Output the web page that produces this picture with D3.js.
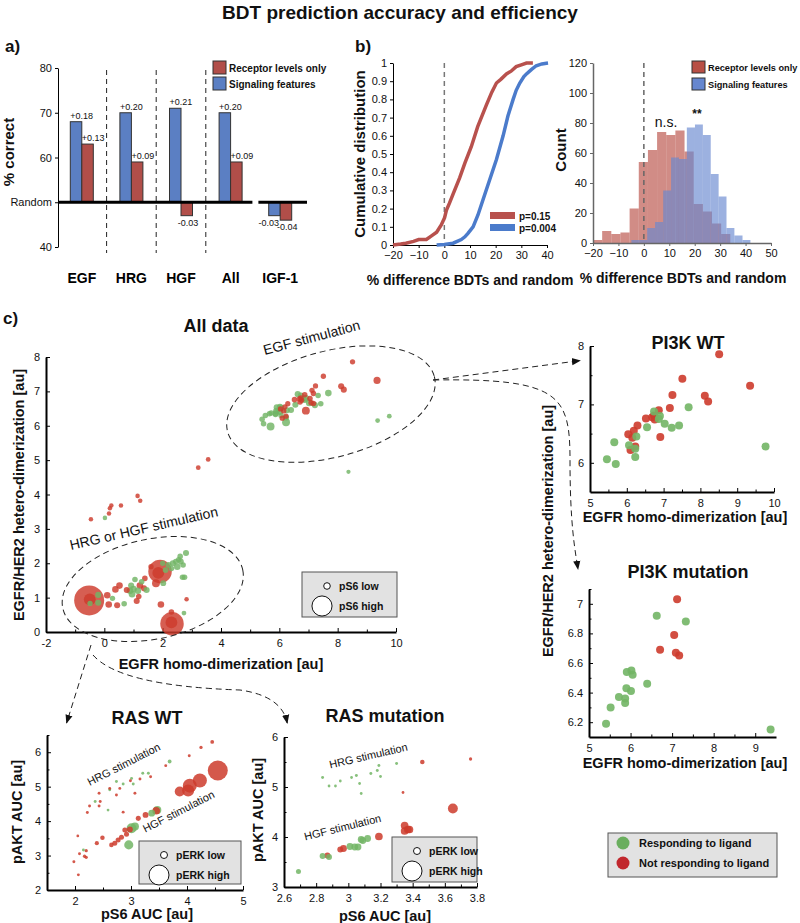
<!DOCTYPE html>
<html>
<head>
<meta charset="utf-8">
<script src="https://cdn.jsdelivr.net/npm/d3@7"></script>
<style>
body { margin: 0; background: #fff; }
svg { font-family: Arial, "Liberation Sans", Helvetica, sans-serif; }
</style>
</head>
<body>
<div id="chart"></div>
<script>
// ---------- data ----------
var groups = ['EGF', 'HRG', 'HGF', 'All', 'IGF-1'];
var signalingPct = [68, 70, 71, 70, 47];
var receptorPct = [63, 59, 47, 59, 46];
var signalingGain = ['+0.18', '+0.20', '+0.21', '+0.20', '-0.03'];
var receptorGain = ['+0.13', '+0.09', '-0.03', '+0.09', '-0.04'];

// cumulative distributions (% difference, fraction)
var cdfReceptor = [[-20,0],[-17,0.005],[-15,0.01],[-12,0.02],[-10,0.03],[-7,0.03],[-5,0.05],[-3,0.07],[-1.2,0.11],[0.1,0.15],[0.8,0.19],[2,0.23],[3.4,0.28],[6,0.37],[8,0.45],[10.5,0.54],[13,0.65],[16.4,0.77],[18.5,0.84],[20.3,0.89],[22,0.91],[24.2,0.94],[26,0.955],[28,0.98],[30,0.99],[32,1],[34.5,1]];
var cdfSignaling = [[-3,0],[0,0.003],[3.4,0.01],[5,0.02],[6.6,0.03],[8,0.045],[9.2,0.064],[11.2,0.1],[13.1,0.165],[15.1,0.25],[17.7,0.36],[20.3,0.47],[22.9,0.6],[24.8,0.71],[26.8,0.8],[28,0.85],[29.4,0.89],[31,0.925],[32,0.94],[34,0.965],[35.8,0.985],[38,0.995],[40.4,1]];

// histograms
var histReceptorEdges = [-20,-16.4,-12.8,-9.2,-5.6,-2,1.6,5.2,8.8,12.4,16,19.6,23.2,26.8,30.4,34];
var histReceptorCounts = [2,8,6,7,23,54,62,74,72,75,61,26,21,13,6];
var histSignalingEdges = [-4.9,-1.8,1.3,4.4,7.6,10.7,13.8,16.9,20.1,23.2,26.3,29.4,32.5,35.6,38.8,41.9];
var histSignalingCounts = [2,2,10,14,35,57,56,77,79,72,46,31,10,5,2];

// scatter points: [x, y, responding (1) / not (0), size variable]
var pi3kWT = [
  [8.51,7.86,0,0.05],[7.51,7.44,0,0.05],[7.24,7.16,0,0.05],[8.12,7.15,0,0.08],[8.21,7.05,0,0.08],
  [9.35,7.32,0,0.12],[7.17,6.94,0,0.06],[6.87,6.90,0,0.06],[6.52,6.76,0,0.06],[6.69,6.78,0,0.06],
  [6.74,6.81,0,0.06],[6.76,6.74,0,0.06],[6.29,6.64,0,0.05],[6.19,6.55,0,0.05],[6.04,6.49,0,0.05],
  [6.15,6.43,0,0.05],[6.23,6.28,0,0.05],[6.10,6.22,0,0.05],[6.91,6.44,0,0.15],
  [5.46,6.06,1,0.06],[5.70,5.98,1,0.15],[5.66,6.35,1,0.06],[6.06,6.30,1,0.06],[6.26,6.45,1,0.08],
  [6.23,6.24,1,0.08],[6.23,6.10,1,0.15],[6.55,6.61,1,0.08],[6.74,6.88,1,0.08],[6.90,6.80,1,0.12],
  [6.87,6.75,1,0.08],[7.03,6.67,1,0.12],[7.22,6.60,1,0.08],[7.42,6.64,1,0.06],[7.68,6.95,1,0.1],
  [9.77,6.28,1,0.03]
];
var pi3kMut = [
  [7.12,7.03,0,0.05],[7.05,6.79,0,0.06],[6.71,6.69,0,0.06],[7.09,6.67,0,0.06],[7.17,6.65,0,0.06],
  [6.63,6.92,1,0.08],[7.33,6.88,1,0.06],[5.91,6.54,1,0.08],[6.02,6.55,1,0.08],[6.05,6.52,1,0.1],
  [6.40,6.46,1,0.08],[5.90,6.43,1,0.1],[6.01,6.41,1,0.1],[5.72,6.37,1,0.06],[5.87,6.36,1,0.08],
  [5.87,6.33,1,0.06],[5.52,6.30,1,0.06],[5.41,6.19,1,0.06],[9.37,6.15,1,0.03]
];
var hrgHgfCluster = [
  [-0.52,0.92,0,1.0],[1.91,1.76,0,0.75],[2.32,0.24,0,0.75],
  [-0.50,0.95,0,0.3],[1.85,1.72,0,0.3],[2.30,0.28,0,0.3],
  [-0.21,1.08,1,0.08],[-0.21,0.85,1,0.08],[-0.49,0.83,1,0.05],[0.10,1.07,0,0.1],[0.15,0.80,0,0.1],
  [0.44,0.78,0,0.08],[0.28,0.98,1,0.05],[0.38,1.24,0,0.1],[0.52,1.35,0,0.1],[0.68,0.82,1,0.06],
  [0.77,1.22,0,0.08],[0.88,1.20,1,0.1],[0.95,1.10,1,0.1],[1.00,1.25,1,0.1],[0.92,1.35,1,0.08],
  [1.05,1.53,1,0.06],[1.11,0.90,0,0.08],[1.18,1.03,0,0.06],[1.22,1.35,0,0.1],[1.39,1.56,0,0.06],
  [1.36,1.27,0,0.08],[1.45,1.22,1,0.08],[1.28,1.46,1,0.06],[1.15,1.20,1,0.1],[1.77,1.42,0,0.15],
  [2.02,1.42,1,0.07],[1.94,0.80,0,0.1],[2.20,1.95,1,0.08],[2.30,1.85,1,0.06],[2.35,2.00,1,0.08],
  [2.45,2.05,1,0.06],[2.50,1.90,1,0.1],[2.55,2.10,1,0.06],[2.62,2.05,1,0.08],[2.70,1.95,1,0.06],
  [2.80,2.30,1,0.08],[2.60,2.20,1,0.06],[2.68,1.59,1,0.06],[2.75,1.59,1,0.06],[2.82,0.95,0,0.02],
  [2.73,0.55,1,0.03],[2.30,0.58,0,0.06],[2.10,1.80,1,0.06],[1.60,1.90,0,0.05],[2.00,2.00,1,0.05]
];
var otherPoints = [
  [-0.46,3.28,0,0.02],[0.02,3.32,1,0.02],[0.19,3.60,0,0.02],[0.16,3.45,0,0.02],[0.24,3.68,0,0.02],
  [0.57,3.68,0,0.02],[1.14,3.96,0,0.02],[1.23,3.82,0,0.02],[3.22,4.78,0,0.03],[3.56,5.02,0,0.03],
  [8.37,4.66,1,0.01]
];
var rasWT = [
  [4.45,6.30,0,0.08],[4.25,6.14,0,0.05],[4.04,5.90,0,0.03],[3.69,5.73,1,0.08],[3.62,5.61,0,0.03],
  [3.35,5.29,0,0.03],[3.31,5.39,1,0.03],[3.21,5.39,1,0.03],[3.16,5.22,0,0.03],[3.01,5.24,1,0.03],
  [2.99,5.17,0,0.03],[3.04,5.08,1,0.03],[3.07,4.81,0,0.03],[2.86,5.08,1,0.03],[2.80,4.95,0,0.03],
  [2.74,5.15,1,0.03],[2.74,4.76,0,0.03],[2.62,4.91,1,0.03],[2.62,4.95,0,0.03],[2.43,4.81,0,0.03],
  [2.45,4.57,0,0.03],[2.43,4.44,0,0.03],[2.36,4.57,1,0.03],[2.26,4.44,0,0.03],[2.22,4.25,0,0.03],
  [2.59,4.32,1,0.02],[2.86,4.26,0,0.03],[2.05,3.57,0,0.02],[1.98,2.82,0,0.03],[2.06,2.44,0,0.03],
  [4.55,5.47,0,1.0],[4.23,5.18,0,0.66],[4.05,5.03,0,0.66],[4.02,4.89,0,0.55],[3.87,4.86,0,0.43],
  [3.47,4.32,1,0.32],[3.45,4.30,0,0.3],[3.37,4.23,1,0.25],[3.26,4.18,0,0.2],[3.13,4.08,0,0.15],
  [3.07,3.84,1,0.32],[3.01,3.79,1,0.43],[2.98,3.76,0,0.2],[2.89,3.74,0,0.15],[2.92,3.62,0,0.15],
  [2.96,3.31,1,0.38],[2.83,3.53,0,0.15],[2.77,3.45,0,0.15],[2.71,3.36,0,0.15],[2.65,3.31,0,0.12],
  [2.49,3.52,0,0.12],[2.39,3.36,0,0.1],[2.15,3.16,1,0.03],[2.20,3.14,0,0.05],[2.20,2.95,0,0.05],
  [2.17,2.98,0,0.05],[2.08,3.05,0,0.03]
];
var rasMut = [
  [2.84,5.19,1,0.03],[2.88,5.02,1,0.02],[2.92,5.02,1,0.02],[2.95,5.12,1,0.02],[3.02,5.19,1,0.02],
  [3.05,5.23,1,0.03],[3.07,5.07,1,0.02],[3.08,4.87,1,0.02],[3.14,5.27,1,0.03],[3.18,5.33,1,0.03],
  [3.19,5.43,1,0.03],[3.20,5.21,1,0.02],[3.30,5.47,1,0.03],
  [3.46,5.50,0,0.12],[3.76,5.56,0,0.05],[3.34,4.89,0,0.02],[3.65,4.57,0,0.43],[3.35,4.23,0,0.3],
  [3.35,4.12,0,0.3],[3.37,4.15,0,0.3],[3.38,4.15,0,0.3],[3.19,4.01,0,0.3],[2.97,3.77,0,0.25],
  [2.95,3.75,0,0.2],[2.87,3.63,0,0.2],
  [2.84,3.62,1,0.2],[2.88,3.60,1,0.2],[3.01,3.81,1,0.25],[3.04,3.80,1,0.25],[3.06,3.80,1,0.25],
  [3.08,3.95,1,0.25],[3.09,3.93,1,0.25],[3.12,3.97,1,0.25],[2.69,3.31,1,0.15]
];

// ---------- setup ----------
var GREEN = '#72b565', RED = '#cd3b2c';
var BAR_BLUE = '#5b7fc3', BAR_RED = '#b14e49';
var LINE_RED = '#b8514d', LINE_BLUE = '#4b7bcb';

var svg = d3.select('#chart').append('svg').attr('width', 800).attr('height', 923);

svg.append('defs').append('marker')
  .attr('id', 'arrow').attr('viewBox', '0 0 10 10')
  .attr('refX', 9).attr('refY', 5)
  .attr('markerWidth', 9).attr('markerHeight', 9)
  .attr('orient', 'auto')
  .append('path').attr('d', 'M0,1 L10,5 L0,9 z').attr('fill', '#111');

function styleAxis(sel, w, color) {
  sel.attr('font-size', 11).attr('font-family', null);
  sel.select('.domain').attr('stroke-width', w).attr('stroke', color || '#000');
  sel.selectAll('.tick line').attr('stroke', color || '#000');
  sel.selectAll('.tick text').attr('fill', '#111');
}

function label(x, y, txt, size, weight, anchor, rot) {
  var t = svg.append('text')
    .attr('transform', 'translate(' + x + ',' + y + ')' + (rot ? ' rotate(' + rot + ')' : ''))
    .attr('font-size', size).attr('font-weight', weight || 'normal')
    .attr('text-anchor', anchor || 'middle').attr('fill', '#111')
    .text(txt);
  return t;
}

label(400, 19, 'BDT prediction accuracy and efficiency', 19, 'bold');
label(5, 52, 'a)', 17, 'bold', 'start');
label(355, 52, 'b)', 17, 'bold', 'start');
label(3, 324, 'c)', 17, 'bold', 'start');

// ---------- panel a ----------
var xa = d3.scaleBand().domain(groups).range([57, 305]);
var ya = d3.scaleLinear().domain([40, 80]).range([247, 68]);
var bw = 11.5;
var rows = groups.map(function(g, i) {
  return { g: g, sig: signalingPct[i], rec: receptorPct[i], sigLab: signalingGain[i], recLab: receptorGain[i] };
});

svg.append('g').selectAll('line').data(groups.slice(1, 4)).join('line')
  .attr('x1', function(d) { return xa(d); }).attr('x2', function(d) { return xa(d); })
  .attr('y1', 70).attr('y2', 253)
  .attr('stroke', '#222').attr('stroke-dasharray', '5,4');

var ay = svg.append('g').attr('transform', 'translate(58,0)')
  .call(d3.axisLeft(ya).tickValues([40, 50, 60, 70, 80])
    .tickFormat(function(d) { return d === 50 ? 'Random' : d; })
    .tickSize(3).tickSizeOuter(0));
styleAxis(ay, 1);

var series = [
  { key: 'sig', lab: 'sigLab', off: -bw, negShift: 0, color: BAR_BLUE },
  { key: 'rec', lab: 'recLab', off: 0, negShift: 7, color: BAR_RED }
];
series.forEach(function(s) {
  var gs = svg.append('g');
  gs.selectAll('rect').data(rows).join('rect')
    .attr('x', function(d) { return xa(d.g) + xa.bandwidth() / 2 + s.off; })
    .attr('width', bw)
    .attr('y', function(d) { return ya(Math.max(d[s.key], 50)); })
    .attr('height', function(d) { return Math.abs(ya(d[s.key]) - ya(50)); })
    .attr('fill', s.color).attr('stroke', '#333').attr('stroke-width', 1);
  gs.selectAll('text').data(rows).join('text')
    .attr('x', function(d) {
      var bx = xa(d.g) + xa.bandwidth() / 2 + s.off;
      return d[s.key] > 50 ? bx : bx + s.negShift;
    })
    .attr('y', function(d) { return d[s.key] > 50 ? ya(d[s.key]) - 3 : ya(d[s.key]) + 10; })
    .attr('text-anchor', function(d) { return d[s.key] > 50 ? 'start' : 'middle'; })
    .attr('font-size', 9).attr('fill', '#111')
    .text(function(d) { return d[s.lab]; });
});

svg.append('line').attr('x1', 58).attr('x2', xa('All') + xa.bandwidth() - 3)
  .attr('y1', ya(50)).attr('y2', ya(50)).attr('stroke', '#000').attr('stroke-width', 3);
svg.append('line').attr('x1', xa('IGF-1') + 3).attr('x2', xa('IGF-1') + xa.step() + 2)
  .attr('y1', ya(50)).attr('y2', ya(50)).attr('stroke', '#000').attr('stroke-width', 3);

svg.append('g').selectAll('text').data(groups).join('text')
  .attr('x', function(d) { return xa(d) + xa.bandwidth() / 2; }).attr('y', 283)
  .attr('text-anchor', 'middle').attr('font-size', 14).attr('font-weight', 'bold')
  .text(function(d) { return d; });
label(14, 152, '% correct', 15, 'bold', 'middle', -90);

function barLegend(x, y, items, fs) {
  items.forEach(function(it, i) {
    svg.append('rect').attr('x', x).attr('y', y + i * 16).attr('width', 13).attr('height', 13)
      .attr('fill', it.color).attr('stroke', '#333');
    label(x + 16, y + i * 16 + 10.5, it.text, fs, 'bold', 'start');
  });
}
barLegend(213, 61, [{ color: BAR_RED, text: 'Receptor levels only' }, { color: BAR_BLUE, text: 'Signaling features' }], 10);

// ---------- panel b (CDF) ----------
var xc = d3.scaleLinear().domain([-20, 40]).range([393, 547]);
var yc = d3.scaleLinear().domain([0, 1]).range([245, 63]);
var cx = svg.append('g').attr('transform', 'translate(0,245)')
  .call(d3.axisBottom(xc).tickValues(d3.range(-20, 41, 10)).tickSize(3).tickSizeOuter(0));
styleAxis(cx, 1);
var cy = svg.append('g').attr('transform', 'translate(393,0)')
  .call(d3.axisLeft(yc).tickValues(d3.range(0, 11).map(function(d) { return d / 10; }))
    .tickFormat(function(d) { return +d.toFixed(1); }).tickSize(3).tickSizeOuter(0));
styleAxis(cy, 1);
svg.append('line').attr('x1', xc(0)).attr('x2', xc(0)).attr('y1', yc(1)).attr('y2', yc(0))
  .attr('stroke', '#777').attr('stroke-width', 1.5).attr('stroke-dasharray', '5,4');
var cdfLine = d3.line().x(function(d) { return xc(d[0]); }).y(function(d) { return yc(d[1]); });
svg.append('path').datum(cdfReceptor).attr('d', cdfLine).attr('fill', 'none')
  .attr('stroke', LINE_RED).attr('stroke-width', 3.5);
svg.append('path').datum(cdfSignaling).attr('d', cdfLine).attr('fill', 'none')
  .attr('stroke', LINE_BLUE).attr('stroke-width', 3.5);
svg.append('rect').attr('x', 490).attr('y', 212).attr('width', 25).attr('height', 7).attr('fill', LINE_RED);
svg.append('rect').attr('x', 490).attr('y', 224).attr('width', 25).attr('height', 7).attr('fill', LINE_BLUE);
label(519, 220, 'p=0.15', 10, 'bold', 'start');
label(519, 232, 'p=0.004', 10, 'bold', 'start');
label(365, 154, 'Cumulative distribution', 15, 'bold', 'middle', -90);
label(470, 285, '% difference BDTs and random', 14, 'bold');

// ---------- panel b (histogram) ----------
var xh = d3.scaleLinear().domain([-20, 50]).range([593, 771]);
var yh = d3.scaleLinear().domain([0, 120]).range([243, 63]);
function histBins(edges, counts) {
  return counts.map(function(c, i) { return { x0: edges[i], x1: edges[i + 1], n: c }; });
}
[[histBins(histReceptorEdges, histReceptorCounts), '#b84f45'],
 [histBins(histSignalingEdges, histSignalingCounts), '#6787cf']].forEach(function(h) {
  svg.append('g').selectAll('rect').data(h[0]).join('rect')
    .attr('x', function(d) { return xh(d.x0); })
    .attr('width', function(d) { return xh(d.x1) - xh(d.x0); })
    .attr('y', function(d) { return yh(d.n); })
    .attr('height', function(d) { return yh(0) - yh(d.n); })
    .attr('fill', h[1]).attr('fill-opacity', 0.65);
});
var hx = svg.append('g').attr('transform', 'translate(0,243)')
  .call(d3.axisBottom(xh).tickValues(d3.range(-20, 51, 10)).tickSize(3).tickSizeOuter(0));
styleAxis(hx, 1.5, '#666');
var hy = svg.append('g').attr('transform', 'translate(593,0)')
  .call(d3.axisLeft(yh).tickValues(d3.range(0, 121, 20)).tickSize(3).tickSizeOuter(0));
styleAxis(hy, 1.5, '#666');
svg.append('line').attr('x1', xh(0)).attr('x2', xh(0)).attr('y1', yh(120)).attr('y2', yh(0))
  .attr('stroke', '#666').attr('stroke-width', 1.5).attr('stroke-dasharray', '5,4');
label(666, 127, 'n.s.', 14);
label(697, 118, '**', 12, 'bold');
svg.append('rect').attr('x', 692).attr('y', 61).attr('width', 13).attr('height', 12).attr('fill', '#b84f45').attr('stroke', '#333');
svg.append('rect').attr('x', 692).attr('y', 78).attr('width', 13).attr('height', 12).attr('fill', '#6787cf').attr('stroke', '#333');
label(708, 70.5, 'Receptor levels only', 9.2, 'bold', 'start');
label(708, 87.5, 'Signaling features', 9.2, 'bold', 'start');
label(566, 150, 'Count', 15, 'bold', 'middle', -90);
label(683, 283, '% difference BDTs and random', 14, 'bold');

// ---------- panel c scatter helper ----------
function fmt(d) { return +d.toFixed(2); }
function scatter(o) {
  var x = d3.scaleLinear().domain(o.xDomain).range([o.left, o.right]);
  var y = d3.scaleLinear().domain(o.yDomain).range([o.bottom, o.top]);
  var g = svg.append('g');
  g.append('g').attr('transform', 'translate(0,' + o.bottom + ')')
    .call(d3.axisBottom(x).tickValues(o.xMinor).tickSize(-2.5).tickFormat(''))
    .call(function(s) { s.select('.domain').remove(); });
  g.append('g').attr('transform', 'translate(' + o.left + ',0)')
    .call(d3.axisLeft(y).tickValues(o.yMinor).tickSize(-2.5).tickFormat(''))
    .call(function(s) { s.select('.domain').remove(); });
  var ax = g.append('g').attr('transform', 'translate(0,' + o.bottom + ')')
    .call(d3.axisBottom(x).tickValues(o.xTicks).tickFormat(fmt).tickSize(-4).tickPadding(7).tickSizeOuter(0));
  styleAxis(ax, 2);
  var ayy = g.append('g').attr('transform', 'translate(' + o.left + ',0)')
    .call(d3.axisLeft(y).tickValues(o.yTicks).tickFormat(fmt).tickSize(-4).tickPadding(6).tickSizeOuter(0));
  styleAxis(ayy, 2);
  var pts = o.points.slice().sort(function(a, b) { return o.r(b[3]) - o.r(a[3]); });
  g.append('g').selectAll('circle').data(pts).join('circle')
    .attr('cx', function(d) { return x(d[0]); })
    .attr('cy', function(d) { return y(d[1]); })
    .attr('r', function(d) { return o.r(d[3]); })
    .attr('fill', function(d) { return d[2] ? GREEN : RED; })
    .attr('fill-opacity', o.opacity || 0.85);
  if (o.title) label(o.titleX, o.titleY, o.title, 18, 'bold');
  if (o.xLabel) label(o.xLabelX, o.xLabelY, o.xLabel, 14.5, 'bold');
  if (o.yLabel) label(o.yLabelX, o.yLabelY, o.yLabel, 14.5, 'bold', 'middle', -90);
  return { x: x, y: y };
}

function sizeLegend(x0, y0, w, h, r, lo, hi, names) {
  svg.append('rect').attr('x', x0).attr('y', y0).attr('width', w).attr('height', h)
    .attr('fill', '#e2e2e2').attr('stroke', '#555');
  svg.append('circle').attr('cx', x0 + 25).attr('cy', y0 + 14).attr('r', r(lo))
    .attr('fill', '#fff').attr('stroke', '#111');
  svg.append('circle').attr('cx', x0 + 20).attr('cy', y0 + 34).attr('r', r(hi))
    .attr('fill', '#fff').attr('stroke', '#111');
  label(x0 + 37, y0 + 18, names[0], 10.5, 'bold', 'start');
  label(x0 + 37, y0 + 38, names[1], 10.5, 'bold', 'start');
}

// All data
var rAll = d3.scaleLinear().domain([0, 1]).range([2, 15]);
var all = scatter({
  xDomain: [-2, 10], yDomain: [0, 8], left: 46, right: 396, bottom: 632, top: 357,
  xTicks: d3.range(-2, 11, 2), xMinor: d3.range(-1, 10, 2),
  yTicks: d3.range(0, 9), yMinor: [],
  points: pi3kWT.concat(pi3kMut, hrgHgfCluster, otherPoints), r: rAll, opacity: 0.82,
  title: 'All data', titleX: 216, titleY: 332,
  xLabel: 'EGFR homo-dimerization [au]', xLabelX: 221, xLabelY: 669,
  yLabel: 'EGFR/HER2 hetero-dimerization [au]', yLabelX: 24, yLabelY: 495
});
sizeLegend(302, 572, 95, 45, rAll, 0.1, 0.62, ['pS6 low', 'pS6 high']);

function dashedEllipse(sc, cxv, cyv, rx, ry, rot) {
  svg.append('ellipse')
    .attr('transform', 'translate(' + sc.x(cxv) + ',' + sc.y(cyv) + ') rotate(' + rot + ')')
    .attr('rx', rx).attr('ry', ry)
    .attr('fill', 'none').attr('stroke', '#222').attr('stroke-dasharray', '6,4');
}
dashedEllipse(all, 7.77, 6.63, 107, 53, -15);
dashedEllipse(all, 1.66, 1.25, 92, 50, -12);
label(all.x(7.15), all.y(8.43), 'EGF stimulation', 14, 'normal', 'middle', -15);
label(all.x(1.39), all.y(2.88), 'HRG or HGF stimulation', 14, 'normal', 'middle', -13);

// PI3K WT
var rFixed = function() { return 4; };
var wt = scatter({
  xDomain: [5, 10], yDomain: [5.5, 8], left: 590, right: 774, bottom: 492, top: 346,
  xTicks: d3.range(5, 11), xMinor: d3.range(5.5, 10, 1),
  yTicks: [6, 7, 8], yMinor: [6.5, 7.5],
  points: pi3kWT, r: rFixed, opacity: 0.9,
  title: 'PI3K WT', titleX: 688, titleY: 349,
  xLabel: 'EGFR homo-dimerization [au]', xLabelX: 685, xLabelY: 522,
  yLabel: 'EGFR/HER2 hetero-dimerization [au]', yLabelX: 553, yLabelY: 531
});

// PI3K mutation
var mut = scatter({
  xDomain: [5, 9.5], yDomain: [6.1, 7.1], left: 589, right: 776, bottom: 737, top: 589,
  xTicks: d3.range(5, 10), xMinor: d3.range(5.5, 9.5, 1),
  yTicks: [6.2, 6.4, 6.6, 6.8, 7.0], yMinor: [6.3, 6.5, 6.7, 6.9, 7.1],
  points: pi3kMut, r: rFixed, opacity: 0.9,
  title: 'PI3K mutation', titleX: 688, titleY: 578,
  xLabel: 'EGFR homo-dimerization [au]', xLabelX: 685, xLabelY: 768
});

// RAS WT
var rRas = d3.scaleLinear().domain([0, 1]).range([1.2, 10]);
var rwt = scatter({
  xDomain: [1.5, 5], yDomain: [2, 6.5], left: 47, right: 243, bottom: 890, top: 735,
  xTicks: [2, 3, 4, 5], xMinor: [2.5, 3.5, 4.5],
  yTicks: [2, 3, 4, 5, 6], yMinor: [2.5, 3.5, 4.5, 5.5, 6.5],
  points: rasWT, r: rRas, opacity: 0.85,
  title: 'RAS WT', titleX: 147, titleY: 724,
  xLabel: 'pS6 AUC [au]', xLabelX: 147, xLabelY: 919,
  yLabel: 'pAKT AUC [au]', yLabelX: 22, yLabelY: 812
});
sizeLegend(139, 841, 102, 43, rRas, 0.26, 1.0, ['pERK low', 'pERK high']);
label(rwt.x(2.9), rwt.y(5.55), 'HRG stimulation', 11, 'normal', 'middle', -27);
label(rwt.x(3.88), rwt.y(4.18), 'HGF stimulation', 11, 'normal', 'middle', -27);

// RAS mutation
var rmut = scatter({
  xDomain: [2.6, 3.8], yDomain: [3, 6], left: 284, right: 477, bottom: 887, top: 737,
  xTicks: [2.6, 2.8, 3, 3.2, 3.4, 3.6, 3.8], xMinor: [2.7, 2.9, 3.1, 3.3, 3.5, 3.7],
  yTicks: [3, 4, 5, 6], yMinor: [3.5, 4.5, 5.5],
  points: rasMut, r: rRas, opacity: 0.85,
  title: 'RAS mutation', titleX: 385, titleY: 722,
  xLabel: 'pS6 AUC [au]', xLabelX: 385, xLabelY: 921,
  yLabel: 'pAKT AUC [au]', yLabelX: 263, yLabelY: 810
});
sizeLegend(392, 837, 85, 45, rRas, 0.26, 1.0, ['pERK low', 'pERK high']);
label(rmut.x(3.13), rmut.y(5.55), 'HRG stimulation', 11, 'normal', 'middle', -13);
label(rmut.x(2.97), rmut.y(4.12), 'HGF stimulation', 11, 'normal', 'middle', -14);

// ---------- arrows ----------
function arrow(d) {
  svg.append('path').attr('d', d).attr('fill', 'none').attr('stroke', '#222')
    .attr('stroke-dasharray', '6,4').attr('marker-end', 'url(#arrow)');
}
var egfTip = [433, 380];
arrow('M' + egfTip + ' L' + (wt.x(5) - 10) + ',' + wt.y(7.75));
arrow('M' + egfTip + ' C560,378 570,395 570,460 S575,550 ' + (mut.x(5) - 11) + ',' + (mut.y(7.1) - 20));
arrow('M91,645 L' + (rwt.x(1.85)) + ',' + (rwt.y(6.5) - 12));
arrow('M93,655 Q120,686 240,690 Q282,696 ' + (rmut.x(2.62)) + ',' + (rmut.y(6) - 14));

// ---------- response legend ----------
svg.append('rect').attr('x', 608).attr('y', 833).attr('width', 169).attr('height', 44)
  .attr('fill', '#e2e2e2').attr('stroke', '#555');
svg.append('circle').attr('cx', 623).attr('cy', 843).attr('r', 6.5).attr('fill', '#6aae5e');
svg.append('circle').attr('cx', 623).attr('cy', 863).attr('r', 6.5).attr('fill', '#c1272d');
label(639, 847, 'Responding to ligand', 11, 'bold', 'start');
label(639, 867, 'Not responding to ligand', 11, 'bold', 'start');
</script>
</body>
</html>
